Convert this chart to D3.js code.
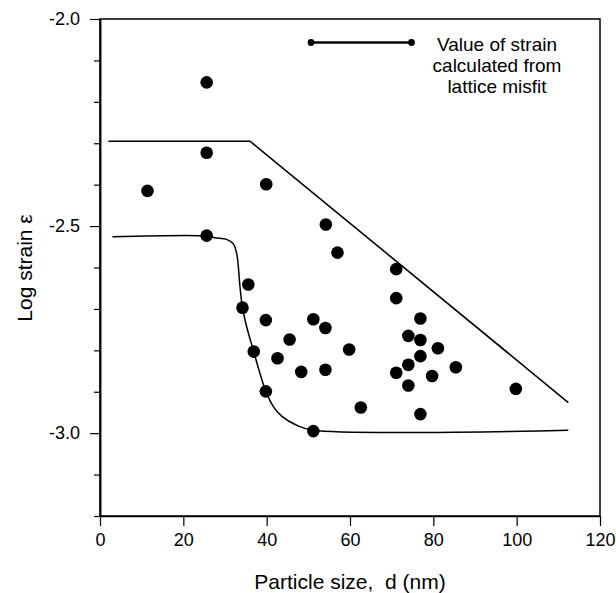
<!DOCTYPE html>
<html>
<head>
<meta charset="utf-8">
<script src="https://cdn.jsdelivr.net/npm/d3@7"></script>
<style>
  body { margin: 0; background: #fff; }
  svg { display: block; }
</style>
</head>
<body>
<div id="chart"></div>
<script>
// ---- data ----
const sizes  = [11.4, 25.6, 25.6, 25.6, 34.2, 35.6, 36.9, 39.8, 39.8, 39.9, 42.6, 45.5,
                48.3, 51.2, 51.2, 54.1, 54.1, 54.2, 57.0, 59.8, 62.6, 71.1, 71.1, 71.1,
                74.0, 74.0, 74.0, 76.9, 76.9, 76.9, 76.9, 79.7, 81.1, 85.4, 99.8];
const strains = [-2.415, -2.153, -2.323, -2.523, -2.697, -2.641, -2.803, -2.727, -2.899, -2.399, -2.819, -2.774,
                 -2.852, -2.725, -2.995, -2.746, -2.847, -2.496, -2.564, -2.798, -2.938, -2.604, -2.674, -2.854,
                 -2.765, -2.835, -2.885, -2.723, -2.775, -2.814, -2.954, -2.862, -2.795, -2.841, -2.893];

// upper bound line
const upperX = [2.0, 36.0, 112.4];
const upperY = [-2.295, -2.295, -2.926];

// lower bound curve
const lowerX = [3.0, 25.6, 27.6, 30.4, 32.0, 32.8, 33.2, 33.6, 34.2, 35.2, 36.9, 38.4, 39.8, 41.6, 43.6, 47.2, 51.2, 112.4];
const lowerY = [-2.526, -2.524, -2.528, -2.532, -2.543, -2.566, -2.598, -2.647, -2.697, -2.743, -2.803, -2.856,
                -2.899, -2.936, -2.959, -2.981, -2.993, -2.993];

const xTicks = [0, 20, 40, 60, 80, 100, 120];
const yMajor = [-2.0, -2.5, -3.0];
const yMinor = [-2.1, -2.2, -2.3, -2.4, -2.6, -2.7, -2.8, -2.9, -3.1, -3.2];
const legendLines = ["Value of strain", "calculated from", "lattice misfit"];

// ---- layout ----
const W = 616, H = 593;
const FONT = "'Liberation Sans', Arial, Helvetica, sans-serif";

const svg = d3.select("#chart").append("svg")
  .attr("width", W).attr("height", H);

const x = d3.scaleLinear().domain([0, 120]).range([100, 600]);
const y = d3.scaleLinear().domain([-3.2, -2.0]).range([516, 19]);

// --- axes ---
const xAxis = svg.append("g")
  .attr("transform", `translate(0,${y(-3.2)})`)
  .call(d3.axisBottom(x).tickValues(xTicks).tickSize(10).tickPadding(7).tickSizeOuter(0));

const yAxisMinor = svg.append("g")
  .attr("transform", `translate(${x(0)},0)`)
  .call(d3.axisLeft(y).tickValues(yMinor).tickSize(6).tickFormat("").tickSizeOuter(0));

const yAxis = svg.append("g")
  .attr("transform", `translate(${x(0)},0)`)
  .call(d3.axisLeft(y).tickValues(yMajor).tickSize(10).tickPadding(10)
    .tickFormat((d) => d.toFixed(1)).tickSizeOuter(0));

[xAxis, yAxis, yAxisMinor].forEach((g) => {
  g.selectAll("path.domain").attr("stroke", "#000").attr("stroke-width", 1.5);
  g.selectAll(".tick line").attr("stroke", "#000").attr("stroke-width", 1.2);
  g.selectAll(".tick text")
    .attr("fill", "#000")
    .attr("font-family", FONT)
    .attr("font-size", "18px");
});

// frame (top + right)
svg.append("rect")
  .attr("x", x(0)).attr("y", y(-2.0))
  .attr("width", x(120) - x(0)).attr("height", y(-3.2) - y(-2.0))
  .attr("fill", "none").attr("stroke", "#000").attr("stroke-width", 1.5);

// --- bound lines ---
const upper = upperX.map((d, i) => [d, upperY[i]]);
const lower = lowerX.map((d, i) => [d, lowerY[i]]);

svg.append("path")
  .datum(upper)
  .attr("d", d3.line().x((d) => x(d[0])).y((d) => y(d[1])))
  .attr("fill", "none").attr("stroke", "#000").attr("stroke-width", 1.6);

svg.append("path")
  .datum(lower)
  .attr("d", d3.line().x((d) => x(d[0])).y((d) => y(d[1])).curve(d3.curveCatmullRom))
  .attr("fill", "none").attr("stroke", "#000").attr("stroke-width", 1.5);

// --- points ---
svg.append("g").selectAll("circle")
  .data(sizes.map((d, i) => [d, strains[i]]))
  .join("circle")
  .attr("cx", (d) => x(d[0]))
  .attr("cy", (d) => y(d[1]))
  .attr("r", 6.3)
  .attr("fill", "#000");

// --- legend ---
const lg = svg.append("g");
lg.append("line")
  .attr("x1", 311).attr("x2", 411.5).attr("y1", 42.5).attr("y2", 42.5)
  .attr("stroke", "#000").attr("stroke-width", 2.6);
[311, 411.5].forEach((cx) => {
  lg.append("circle").attr("cx", cx).attr("cy", 42.5).attr("r", 3.4).attr("fill", "#000");
});
lg.selectAll("text.leg")
  .data(legendLines)
  .join("text")
  .attr("class", "leg")
  .attr("x", 497)
  .attr("y", (d, i) => 51 + i * 21.2)
  .attr("text-anchor", "middle")
  .attr("font-family", FONT)
  .attr("font-size", "19px")
  .attr("fill", "#000")
  .text((d) => d);

// --- axis titles ---
svg.append("text")
  .attr("x", 350).attr("y", 589)
  .attr("text-anchor", "middle")
  .attr("font-family", FONT)
  .attr("font-size", "21px")
  .attr("fill", "#000")
  .attr("xml:space", "preserve")
  .style("white-space", "pre")
  .text("Particle size,  d (nm)");

svg.append("text")
  .attr("transform", "translate(32,268) rotate(-90)")
  .attr("text-anchor", "middle")
  .attr("font-family", FONT)
  .attr("font-size", "21px")
  .attr("fill", "#000")
  .text("Log strain ε");
</script>
</body>
</html>
